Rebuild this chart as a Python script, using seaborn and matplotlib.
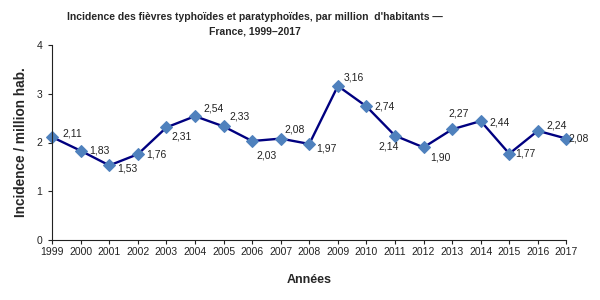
import pandas as pd
import matplotlib
matplotlib.use('Agg')
import matplotlib.pyplot as plt
import seaborn as sns

years = list(range(1999, 2018))
incidence = [2.11, 1.83, 1.53, 1.76, 2.31, 2.54, 2.33, 2.03, 2.08, 1.97,
             3.16, 2.74, 2.14, 1.90, 2.27, 2.44, 1.77, 2.24, 2.08]
# where each value label sits relative to its point (pixels)
label_offsets = [(20, 4), (19, 0), (18, -3), (18, 0), (15, -9), (19, 8), (16, 10),
                 (14, -14), (14, 9), (17, -5), (16, 8), (18, 0), (-6, -11),
                 (17, -10), (6, 16), (19, -1), (16, 0), (19, 5), (12, 0)]

df = pd.DataFrame({'Année': years, 'Incidence': incidence})

sns.set_style('ticks')
plt.rcParams['font.family'] = ['Liberation Sans', 'DejaVu Sans']

fig = plt.figure(figsize=(6, 3), dpi=100)
ax = fig.add_axes([0.087, 0.2, 0.857, 0.65])
sns.lineplot(data=df, x='Année', y='Incidence', ax=ax, color='#000080', lw=1.7,
             marker='D', markersize=6, markerfacecolor='#4F81BD',
             markeredgecolor='#4F81BD')
for ln in ax.lines:
    ln.set_clip_on(False)

for x, y, (dx, dy) in zip(years, incidence, label_offsets):
    ax.annotate(f'{y:.2f}'.replace('.', ','), (x, y), xytext=(dx, dy),
                textcoords='offset pixels', ha='center', va='center',
                fontsize=7.5, color='#222222')

ax.set_xlim(1999, 2017)
ax.set_ylim(0, 4)
ax.set_xticks(years)
ax.set_yticks([0, 1, 2, 3, 4])
ax.tick_params(labelsize=7.5, length=3, width=0.8, colors='#222222', pad=2)
ax.tick_params(axis='y', pad=4)
sns.despine(ax=ax)
for s in ['left', 'bottom']:
    ax.spines[s].set_color('#222222')
    ax.spines[s].set_linewidth(0.8)

ax.set_xlabel('Années', fontsize=9, fontweight='bold', labelpad=12)
ax.set_ylabel('Incidence / million hab.', fontsize=9.8, fontweight='bold', labelpad=6)
fig.text(0.425, 0.96, "Incidence des fièvres typhoïdes et paratyphoïdes, par million  d'habitants —\nFrance, 1999–2017",
         ha='center', va='top', fontsize=7.5, fontweight='bold', linespacing=1.5)

fig.savefig('out.png', dpi=100)
